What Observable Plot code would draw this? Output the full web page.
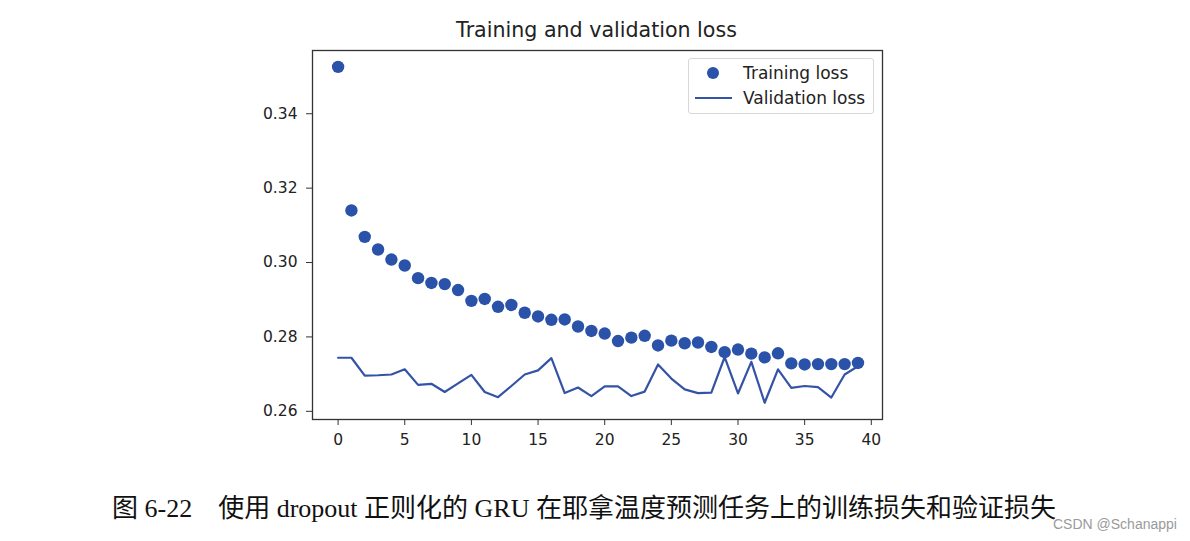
<!DOCTYPE html>
<html>
<head>
<meta charset="utf-8">
<script src="https://cdn.jsdelivr.net/npm/d3@7"></script>
<script src="https://cdn.jsdelivr.net/npm/@observablehq/plot@0.6"></script>
<style>
  html, body { margin: 0; padding: 0; background: #fff; width: 1190px; height: 541px; overflow: hidden; position: relative; }
  #chart { position: absolute; left: 0; top: 0; }
  #title { position: absolute; left: 0; width: 1193px; top: 18px; text-align: center; font-family: "DejaVu Sans", sans-serif; font-size: 20.6px; color: #222; }
  #legend { position: absolute; left: 688px; top: 58px; width: 184px; height: 54px; border: 1px solid #d8d8d8; border-radius: 3px; background: #fff; }
  #caption { position: absolute; left: 0; width: 1168px; top: 487px; text-align: center; font-family: "Liberation Serif", "Noto Sans CJK SC", serif; font-size: 26px; color: #111; white-space: nowrap; }
  #wm { position: absolute; left: 1053px; top: 516px; font-family: "Liberation Sans", Arial, sans-serif; font-size: 14px; color: #9a9a9a; }
</style>
</head>
<body>
<div id="chart"></div>
<div id="title">Training and validation loss</div>
<div id="legend"></div>
<div id="caption">图 6-22&nbsp;&nbsp;&nbsp;&nbsp;使用 dropout 正则化的 GRU 在耶拿温度预测任务上的训练损失和验证损失</div>
<div id="wm">CSDN @Schanappi</div>
<script>
const epochs = d3.range(0, 40);
const trainingLoss = [
  0.3526, 0.3140, 0.3069, 0.3035, 0.3008, 0.2992, 0.2958, 0.2945, 0.2942, 0.2926,
  0.2897, 0.2902, 0.2881, 0.2886, 0.2865, 0.2855, 0.2846, 0.2847, 0.2828, 0.2816,
  0.2809, 0.2789, 0.2798, 0.2803, 0.2777, 0.2790, 0.2783, 0.2785, 0.2773, 0.2759,
  0.2766, 0.2755, 0.2745, 0.2756, 0.2729, 0.2726, 0.2727, 0.2727, 0.2727, 0.2730
];
const validationLoss = [
  0.2744, 0.2744, 0.2696, 0.2697, 0.2699, 0.2713, 0.2671, 0.2674, 0.2652, 0.2675,
  0.2698, 0.2652, 0.2638, 0.2668, 0.2699, 0.2710, 0.2743, 0.2649, 0.2664, 0.2641,
  0.2667, 0.2667, 0.2641, 0.2653, 0.2726, 0.2688, 0.2659, 0.2649, 0.2650, 0.2746,
  0.2648, 0.2733, 0.2623, 0.2713, 0.2663, 0.2668, 0.2665, 0.2637, 0.2699, 0.2721
];
const xTicks = [0, 5, 10, 15, 20, 25, 30, 35, 40];
const yTicks = [0.26, 0.28, 0.30, 0.32, 0.34];
const seriesNames = ["Training loss", "Validation loss"];

const train = epochs.map((e, i) => ({epoch: e, loss: trainingLoss[i]}));
const val = epochs.map((e, i) => ({epoch: e, loss: validationLoss[i]}));

const dotColor = "#2a52a8";
const lineColor = "#3553a6";

const chart = Plot.plot({
  width: 1190,
  height: 470,
  marginLeft: 312,
  marginRight: 308,
  marginTop: 50,
  marginBottom: 51,
  style: {fontFamily: "DejaVu Sans, sans-serif", fontSize: "15.5px", color: "#222", background: "transparent"},
  x: {domain: [-1.92, 40.84], label: null},
  y: {domain: [0.2578, 0.3570], label: null},
  marks: [
    Plot.line(val, {x: "epoch", y: "loss", stroke: lineColor, strokeWidth: 2.2}),
    Plot.dot(train, {x: "epoch", y: "loss", r: 6.2, fill: dotColor, stroke: "none"}),
    Plot.frame({stroke: "#333", strokeWidth: 1.3}),
    Plot.axisX({ticks: xTicks, tickSize: 6, tickPadding: 8, tickFormat: d3.format("d"), label: null, stroke: "#333"}),
    Plot.axisY({ticks: yTicks, tickSize: 6, tickPadding: 9, tickFormat: d3.format(".2f"), label: null, stroke: "#333"})
  ]
});
document.getElementById("chart").appendChild(chart);

const lg = document.getElementById("legend");
lg.innerHTML = `
<svg width="184" height="54" style="position:absolute;left:0;top:0">
  <circle cx="24" cy="14" r="6" fill="${dotColor}"></circle>
  <line x1="6" y1="39" x2="43" y2="39" stroke="${lineColor}" stroke-width="2.2"></line>
  <text x="54" y="20" font-size="17" fill="#222" font-family="DejaVu Sans, sans-serif">${seriesNames[0]}</text>
  <text x="54" y="45" font-size="17" fill="#222" font-family="DejaVu Sans, sans-serif">${seriesNames[1]}</text>
</svg>`;
</script>
</body>
</html>
